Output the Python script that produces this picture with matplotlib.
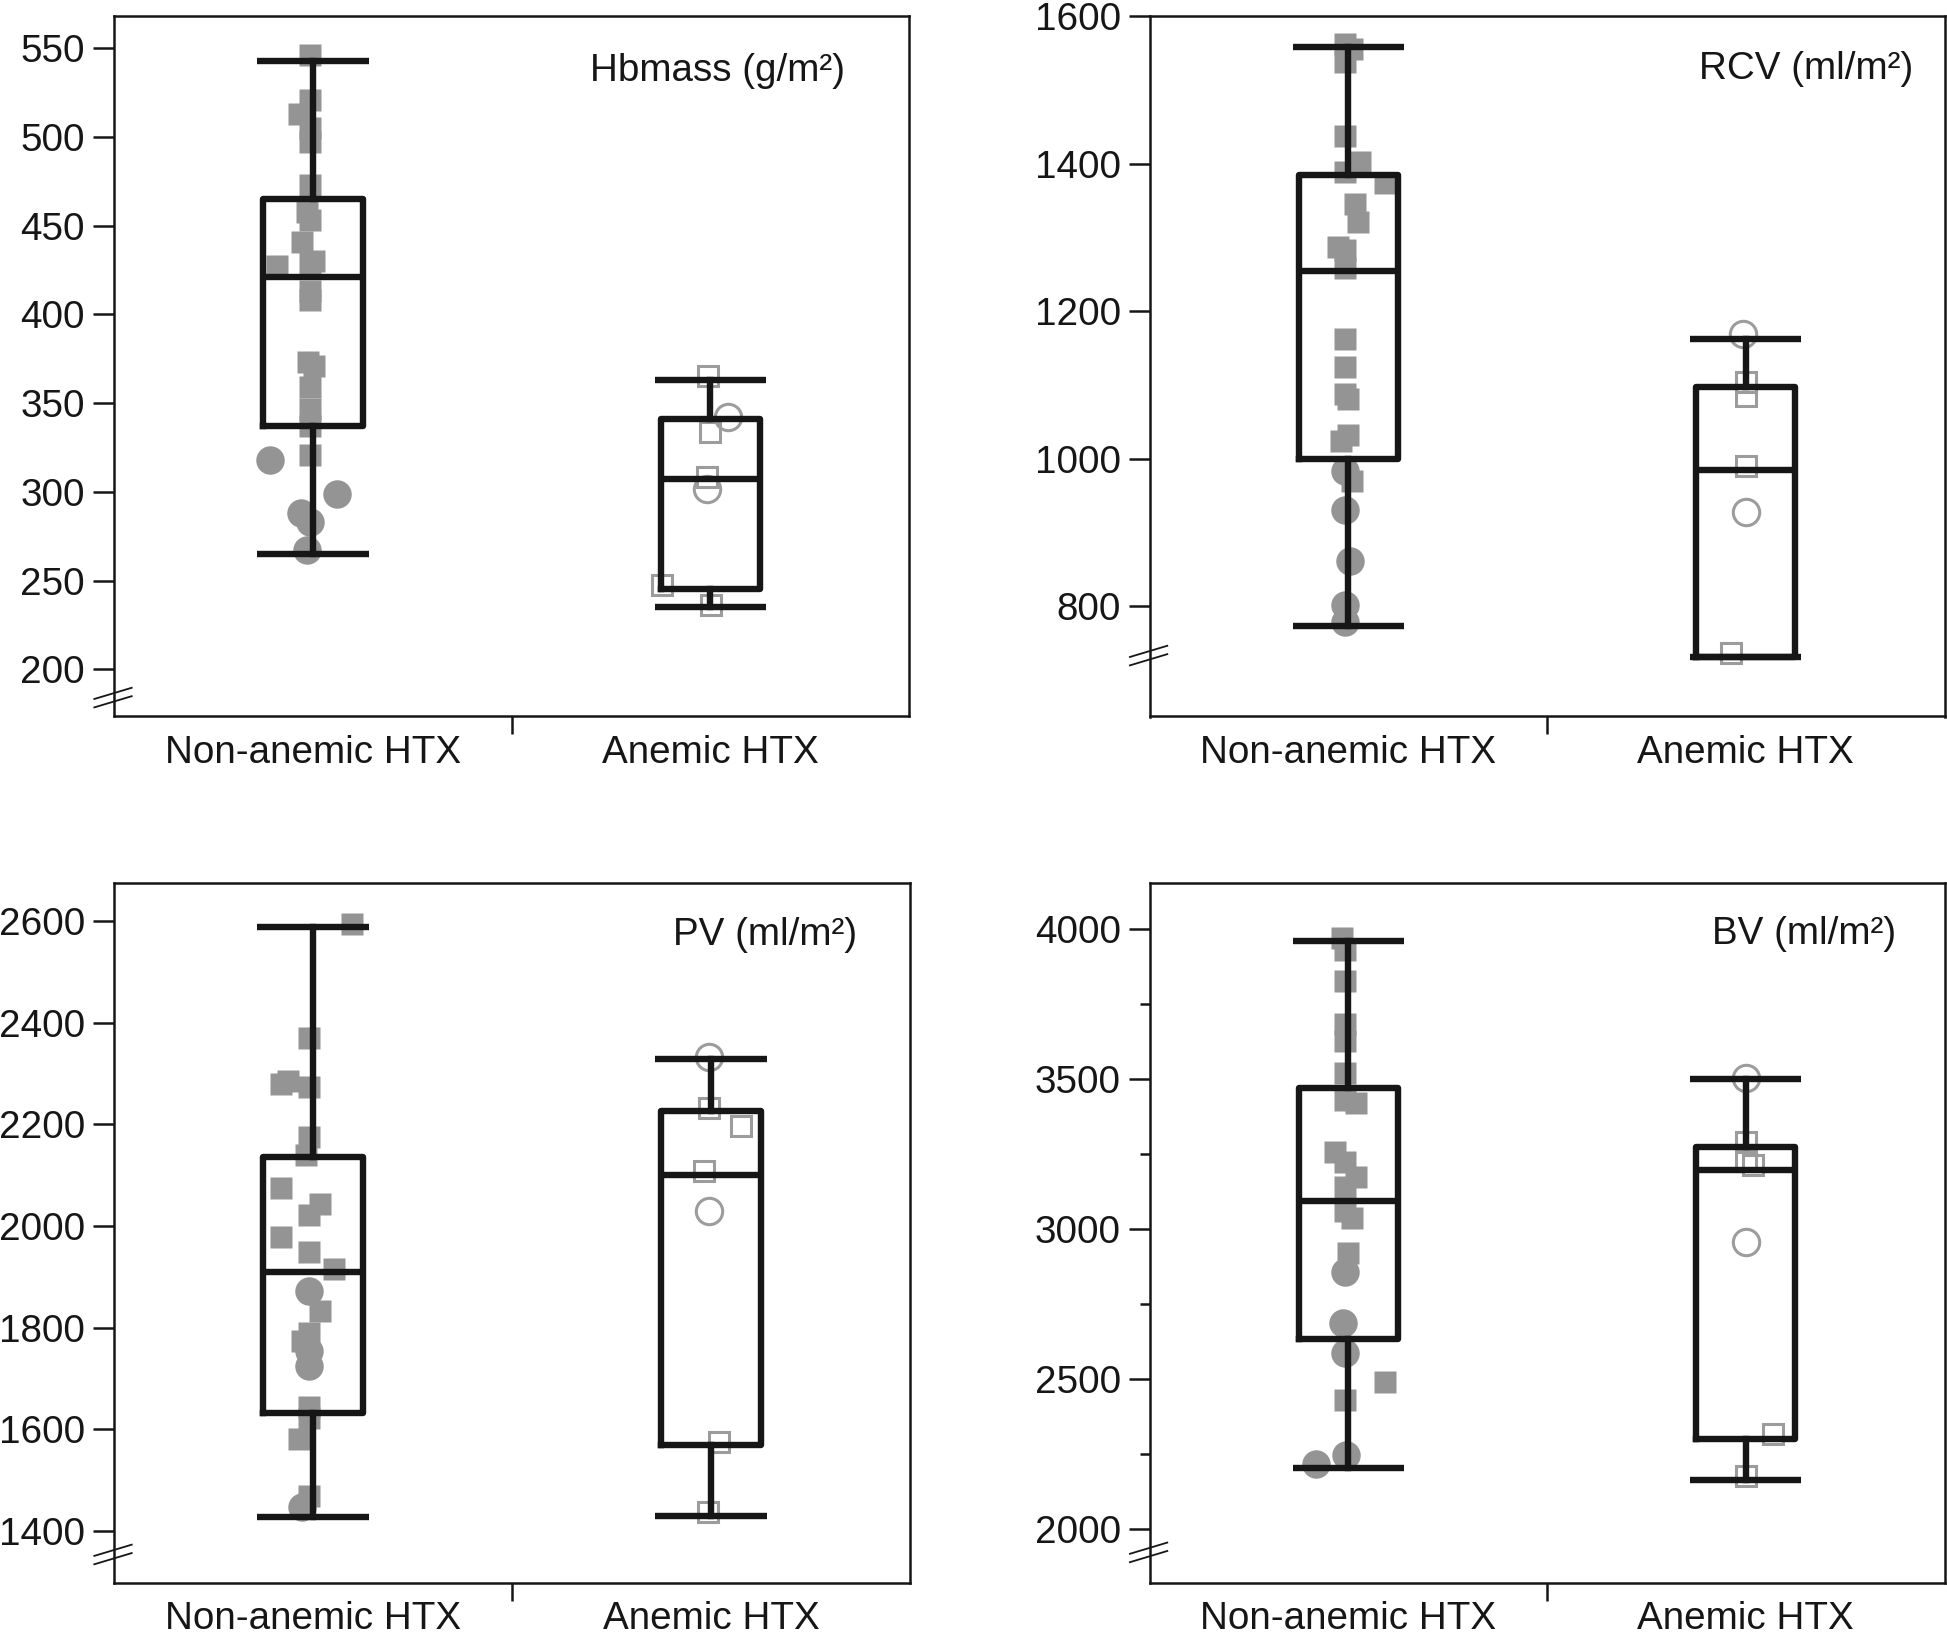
import matplotlib
matplotlib.use("Agg")
import matplotlib.pyplot as plt
from matplotlib.ticker import MultipleLocator

plt.rcParams['font.family'] = ['Liberation Sans', 'DejaVu Sans']

groups = ["Non-anemic HTX", "Anemic HTX"]

# ---------------- Hbmass (g/m²) ----------------
hb_label = "Hbmass (g/m²)"
hb_box_non = [265, 337, 421, 465, 543]   # whislo, q1, med, q3, whishi
hb_box_an = [235, 245, 307, 341, 363]
hb_non_sq = [546, 521, 513, 505, 497, 473, 458, 453, 441, 430, 429, 427.5,
             413, 408, 373, 371, 359, 347, 337, 321]
hb_non_sq_dx = [-0.008, -0.008, -0.036, -0.008, -0.008, -0.008, -0.016, -0.006, -0.028, 0.002, -0.006, -0.091,
                -0.008, -0.008, -0.013, 0.004, -0.008, -0.008, -0.008, -0.008]
hb_non_ci = [318, 298.6, 288.3, 283.2, 267]
hb_non_ci_dx = [-0.109, 0.061, -0.029, -0.008, -0.015]
hb_an_sq = [365.2, 333.7, 308.5, 247.6, 236.4]
hb_an_sq_dx = [-0.006, 0.0, -0.009, -0.122, 0.003]
hb_an_ci = [342.1, 301.5]
hb_an_ci_dx = [0.044, -0.009]

# ---------------- RCV (ml/m²) ----------------
rcv_label = "RCV (ml/m²)"
rcv_box_non = [773, 1000, 1255, 1385, 1558]
rcv_box_an = [731, 731, 985, 1097, 1163]
rcv_non_sq = [1562, 1556.5, 1538, 1437.5, 1403, 1389, 1374, 1345, 1321.5, 1287.6, 1283, 1259,
              1162, 1124, 1088, 1081, 1032.4, 1024.7, 969.6]
rcv_non_sq_dx = [-0.010, 0.008, -0.010, -0.010, 0.028, -0.010, 0.091, 0.016, 0.025, -0.027, -0.010, -0.010,
                 -0.010, -0.010, -0.010, 0.0, 0.0, -0.019, 0.009]
rcv_non_ci = [984, 930, 862, 802.3, 779]
rcv_non_ci_dx = [-0.010, -0.010, 0.003, -0.010, -0.010]
rcv_an_sq = [1104, 1085.7, 990, 736]
rcv_an_sq_dx = [0.0, 0.0, 0.0, -0.0375]
rcv_an_ci = [1169.7, 927.7]
rcv_an_ci_dx = [-0.006, 0.0]

# ---------------- PV (ml/m²) ----------------
pv_label = "PV (ml/m²)"
pv_box_non = [1428, 1632, 1910, 2135, 2588]
pv_box_an = [1429, 1568, 2101, 2226, 2329]
pv_non_sq = [2594.7, 2371, 2280, 2286, 2273.3, 2176, 2140, 2075.7, 2043, 2022, 1979, 1949.8,
             1915.7, 1833, 1789, 1774.6, 1643.6, 1621.9, 1580.6, 1467.6]
pv_non_sq_dx = [0.098, -0.010, -0.081, -0.063, -0.010, -0.010, -0.017, -0.081, 0.017, -0.010, -0.081, -0.010,
                0.053, 0.018, -0.010, -0.027, -0.010, -0.010, -0.036, -0.010]
pv_non_ci = [1873, 1753, 1723.5, 1446]
pv_non_ci_dx = [-0.010, -0.010, -0.010, -0.027]
pv_an_sq = [2233, 2196.6, 2108.6, 1575.5, 1436]
pv_an_sq_dx = [-0.006, 0.075, -0.019, 0.019, -0.009]
pv_an_ci = [2333.5, 2030]
pv_an_ci_dx = [-0.006, -0.006]

# ---------------- BV (ml/m²) ----------------
bv_label = "BV (ml/m²)"
bv_box_non = [2203, 2632, 3093, 3470, 3958]
bv_box_an = [2161, 2298, 3197, 3271, 3499]
bv_non_sq = [3968, 3929, 3826, 3682.5, 3627, 3518, 3430, 3420, 3256.7, 3221, 3173, 3140,
             3058, 3035, 2918, 2487.6, 2428.6]
bv_non_sq_dx = [-0.017, -0.008, -0.008, -0.008, -0.008, -0.008, -0.008, 0.018, -0.035, -0.008, 0.018, -0.008,
                -0.008, 0.010, 0.0, 0.091, -0.008]
bv_non_ci = [2854, 2684, 2584, 2245, 2214]
bv_non_ci_dx = [-0.008, -0.014, -0.008, -0.006, -0.081]
bv_an_sq = [3288, 3225, 3213, 2315, 2174]
bv_an_sq_dx = [0.0, 0.0, 0.019, 0.069, 0.0]
bv_an_ci = [3503, 2956.5]
bv_an_ci_dx = [0.0, 0.0]

panels = [
    dict(label=hb_label, box=[hb_box_non, hb_box_an],
         nsq=(hb_non_sq, hb_non_sq_dx), nci=(hb_non_ci, hb_non_ci_dx),
         asq=(hb_an_sq, hb_an_sq_dx), aci=(hb_an_ci, hb_an_ci_dx),
         ylim=(173.4, 568.2), major=50, yticks=(200, 550), minor=None, brk=0.027,
         txt=(0.919, 0.922)),
    dict(label=rcv_label, box=[rcv_box_non, rcv_box_an],
         nsq=(rcv_non_sq, rcv_non_sq_dx), nci=(rcv_non_ci, rcv_non_ci_dx),
         asq=(rcv_an_sq, rcv_an_sq_dx), aci=(rcv_an_ci, rcv_an_ci_dx),
         ylim=(650.4, 1600.5), major=200, yticks=(800, 1600), minor=None, brk=0.087,
         txt=(0.961, 0.925)),
    dict(label=pv_label, box=[pv_box_non, pv_box_an],
         nsq=(pv_non_sq, pv_non_sq_dx), nci=(pv_non_ci, pv_non_ci_dx),
         asq=(pv_an_sq, pv_an_sq_dx), aci=(pv_an_ci, pv_an_ci_dx),
         ylim=(1296.8, 2675.8), major=200, yticks=(1400, 2600), minor=None, brk=0.041,
         txt=(0.934, 0.926)),
    dict(label=bv_label, box=[bv_box_non, bv_box_an],
         nsq=(bv_non_sq, bv_non_sq_dx), nci=(bv_non_ci, bv_non_ci_dx),
         asq=(bv_an_sq, bv_an_sq_dx), aci=(bv_an_ci, bv_an_ci_dx),
         ylim=(1817.7, 4153), major=500, yticks=(2000, 4000), minor=250, brk=0.044,
         txt=(0.939, 0.927)),
]

W, H = 1947, 1632
fig = plt.figure(figsize=(W / 100, H / 100), dpi=100)
rects = [
    (114.2 / W, 1 - 716.5 / H, 794.7 / W, 700.4 / H),
    (1149.8 / W, 1 - 716.5 / H, 794.7 / W, 700.4 / H),
    (114.2 / W, 1 - 1583.2 / H, 795.9 / W, 700.4 / H),
    (1149.8 / W, 1 - 1583.2 / H, 794.7 / W, 700.4 / H),
]

GRAY = '#949494'
DARK = '#161616'
FS = 27.8

for p, r in zip(panels, rects):
    ax = fig.add_axes(r)
    ax.set_xlim(0.5, 2.5)
    ax.set_ylim(*p['ylim'])

    # points
    for pos, sq, ci, filled in [(1, p['nsq'], p['nci'], True), (2, p['asq'], p['aci'], False)]:
        xs = [pos + d for d in sq[1]]
        xc = [pos + d for d in ci[1]]
        if filled:
            ax.plot(xs, sq[0], 's', ms=15.5, color=GRAY, mec='none', zorder=2, clip_on=False)
            ax.plot(xc, ci[0], 'o', ms=20.5, color=GRAY, mec='none', zorder=2, clip_on=False)
        else:
            ax.plot(xs, sq[0], 's', ms=14, mfc='none', mec='#9c9c9c', mew=2.2, zorder=2)
            ax.plot(xc, ci[0], 'o', ms=19, mfc='none', mec='#9c9c9c', mew=2.2, zorder=2)

    stats = []
    for b in p['box']:
        stats.append(dict(whislo=b[0], q1=b[1], med=b[2], q3=b[3], whishi=b[4], fliers=[]))
    lw = 4.6
    ax.bxp(stats, positions=[1, 2], widths=0.25, capwidths=0.28, showfliers=False,
           patch_artist=False, manage_ticks=False,
           boxprops=dict(color=DARK, linewidth=lw, zorder=3),
           whiskerprops=dict(color=DARK, linewidth=lw, zorder=3),
           capprops=dict(color=DARK, linewidth=lw, zorder=3, solid_capstyle='butt'),
           medianprops=dict(color=DARK, linewidth=lw, zorder=3, solid_capstyle='butt'))

    # axes styling
    for s in ax.spines.values():
        s.set_linewidth(1.8)
        s.set_color(DARK)
    lo, hi = p['yticks']
    ax.set_yticks(list(range(lo, hi + 1, p['major'])))
    ax.tick_params(axis='y', which='major', direction='out', length=15, width=1.8,
                   labelsize=FS, pad=6, colors=DARK)
    if p['minor']:
        ax.yaxis.set_minor_locator(MultipleLocator(p['minor']))
        ax.tick_params(axis='y', which='minor', direction='out', length=7, width=1.8, colors=DARK)
    else:
        ax.yaxis.set_minor_locator(plt.NullLocator())

    ax.set_xticks([1, 2])
    ax.set_xticklabels(groups)
    ax.set_xticks([1.5], minor=True)
    ax.tick_params(axis='x', which='major', length=0, labelsize=FS, pad=13, colors=DARK)
    ax.tick_params(axis='x', which='minor', length=13, width=1.8, direction='out', colors=DARK)

    ax.text(p['txt'][0], p['txt'][1], p['label'], transform=ax.transAxes,
            ha='right', va='center', fontsize=FS, color=DARK)

    # axis break marks
    yb = p['brk']
    for dy in (-0.006, 0.006):
        ax.plot([-0.025, 0.022], [yb + dy - 0.008, yb + dy + 0.008], transform=ax.transAxes,
                color=DARK, lw=1.3, clip_on=False, zorder=5)

fig.savefig("out.png", dpi=100)
